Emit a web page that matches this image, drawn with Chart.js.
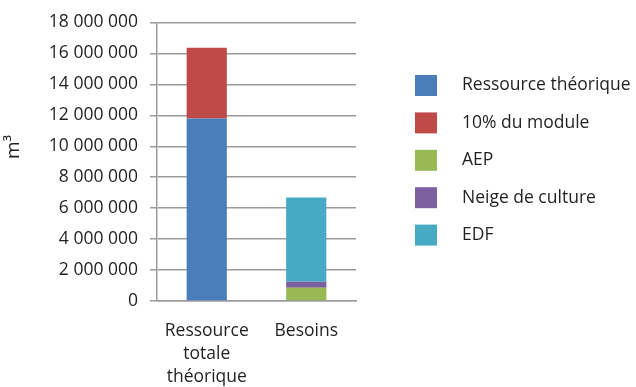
<!DOCTYPE html>
<html>
<head>
<meta charset="utf-8">
<script src="https://cdn.jsdelivr.net/npm/chart.js@4"></script>
<style>
  html, body { margin: 0; padding: 0; background: #ffffff; }
  #wrap { width: 636px; height: 387px; position: relative; }
</style>
</head>
<body>
<div id="wrap"><canvas id="chart"></canvas></div>
<script>
// Données (m3)
const categories = [['Ressource', 'totale', 'théorique'], 'Besoins'];
const seriesNames = ['Ressource théorique', '10% du module', 'AEP', 'Neige de culture', 'EDF'];
const ressourceTheorique = [11800000, null];
const dixPourcentModule = [4570000, null];
const aep = [null, 860000];
const neigeCulture = [null, 380000];
const edf = [null, 5450000];
const seriesColors = ['#4A7EBB', '#BE4B48', '#98B954', '#7D60A0', '#46AAC5'];
const yTitle = '\u00a0\u00a0\u00a0\u00a0\u00a0\u00a0m³';

const FONT = "'Open Sans', 'DejaVu Sans', sans-serif";
const GRID = '#9b9b9f';
const TEXT = '#231f20';

function formatNumber(v) {
    return String(v).replace(/\B(?=(\d{3})+(?!\d))/g, ' ');
}

// Légende dessinée à droite, comme dans l'original
const sideLegend = {
    id: 'sideLegend',
    afterDraw(chart) {
        const ctx = chart.ctx;
        ctx.save();
        ctx.font = '17.5px ' + FONT;
        ctx.textBaseline = 'middle';
        ctx.textAlign = 'left';
        chart.data.datasets.forEach((ds, i) => {
            const cy = 85.5 + i * 37.4;
            ctx.fillStyle = ds.backgroundColor;
            ctx.fillRect(415, cy - 10.5, 22, 21);
            ctx.fillStyle = TEXT;
            ctx.fillText(ds.label, 462, cy);
        });
        ctx.restore();
    }
};

const seriesData = [ressourceTheorique, dixPourcentModule, aep, neigeCulture, edf];

new Chart(document.getElementById('chart'), {
    type: 'bar',
    data: {
        labels: categories,
        datasets: seriesNames.map((name, i) => ({
            label: name,
            data: seriesData[i],
            backgroundColor: seriesColors[i],
            borderWidth: 0,
            barPercentage: 0.8,
            categoryPercentage: 0.505,
            skipNull: true
        }))
    },
    options: {
        responsive: true,
        maintainAspectRatio: false,
        animation: false,
        layout: {
            padding: { top: 12, right: 280, bottom: 0, left: 0 }
        },
        plugins: {
            legend: { display: false },
            tooltip: { enabled: false }
        },
        scales: {
            x: {
                stacked: true,
                grid: { display: false },
                border: { display: true, color: GRID, width: 1.5 },
                ticks: {
                    color: TEXT,
                    padding: 11,
                    maxRotation: 0,
                    font: { family: FONT, size: 17.5, lineHeight: 1.31 }
                },
                afterFit(scale) { scale.height = 86; }
            },
            y: {
                stacked: true,
                min: 0,
                max: 18000000,
                grid: { color: GRID, lineWidth: 1.5, tickLength: 7 },
                border: { display: true, color: GRID, width: 1.5 },
                ticks: {
                    stepSize: 2000000,
                    color: TEXT,
                    padding: 12,
                    font: { family: FONT, size: 17.5 },
                    callback: v => formatNumber(v)
                },
                title: {
                    display: true,
                    text: yTitle,
                    color: TEXT,
                    font: { family: FONT, size: 19 },
                    padding: { top: 2, bottom: 0 }
                },
                afterFit(scale) { scale.width = 157; }
            }
        }
    },
    plugins: [sideLegend]
});
</script>
</body>
</html>
